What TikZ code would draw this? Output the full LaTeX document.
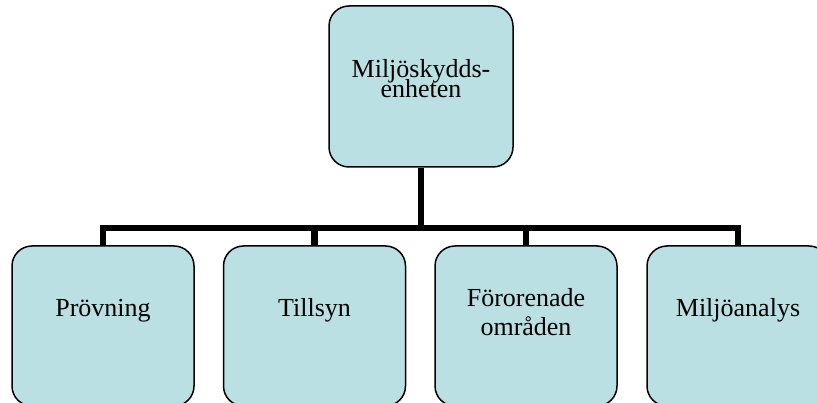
\documentclass[tikz,border=0pt]{standalone}
\usepackage{fontspec}
\setmainfont{Liberation Serif}
\definecolor{boxfill}{HTML}{BBE0E3}
\pgfdeclarelayer{bg}
\pgfsetlayers{bg,main}
\tikzset{
  orgbox/.style={draw=black, line width=1.5pt, fill=boxfill, rounded corners=20pt,
    minimum width=182pt, minimum height=160pt, inner sep=0pt},
  lbl/.style={font=\fontsize{26}{29}\selectfont, inner sep=0pt, align=center, anchor=base},
  conn/.style={line width=6.5pt, line join=miter, draw=black}
}
\begin{document}
\begin{tikzpicture}[x=1pt,y=-1pt]
\clip (0,0) rectangle (817,403);
\node[orgbox, minimum width=184pt, minimum height=161pt] (top) at (421,86.5) {};
\node[orgbox] (b1) at (103,326) {};
\node[orgbox] (b2) at (314.5,326) {};
\node[orgbox] (b3) at (526,326) {};
\node[orgbox] (b4) at (738,326) {};
\coordinate (j) at (421,228);
\begin{pgfonlayer}{bg}
\draw[conn] (top.south) -- (j);
\draw[conn] (b1.north) |- (j);
\draw[conn] (b4.north) |- (j);
\draw[conn] (b2.north) -- (b2.north |- j);
\draw[conn] (b3.north) -- (b3.north |- j);
\end{pgfonlayer}
\node[lbl] (t0a) at (421,78) {Miljöskydds-};
\node[lbl] (t0b) at (421,98) {enheten};
\node[lbl] (t1) at (103,317) {Prövning};
\node[lbl] (t2) at (314.5,317) {Tillsyn};
\node[lbl] (t3a) at (526,307) {Förorenade};
\node[lbl] (t3b) at (526,336) {områden};
\node[lbl] (t4) at (738,317) {Miljöanalys};
\end{tikzpicture}
\end{document}
